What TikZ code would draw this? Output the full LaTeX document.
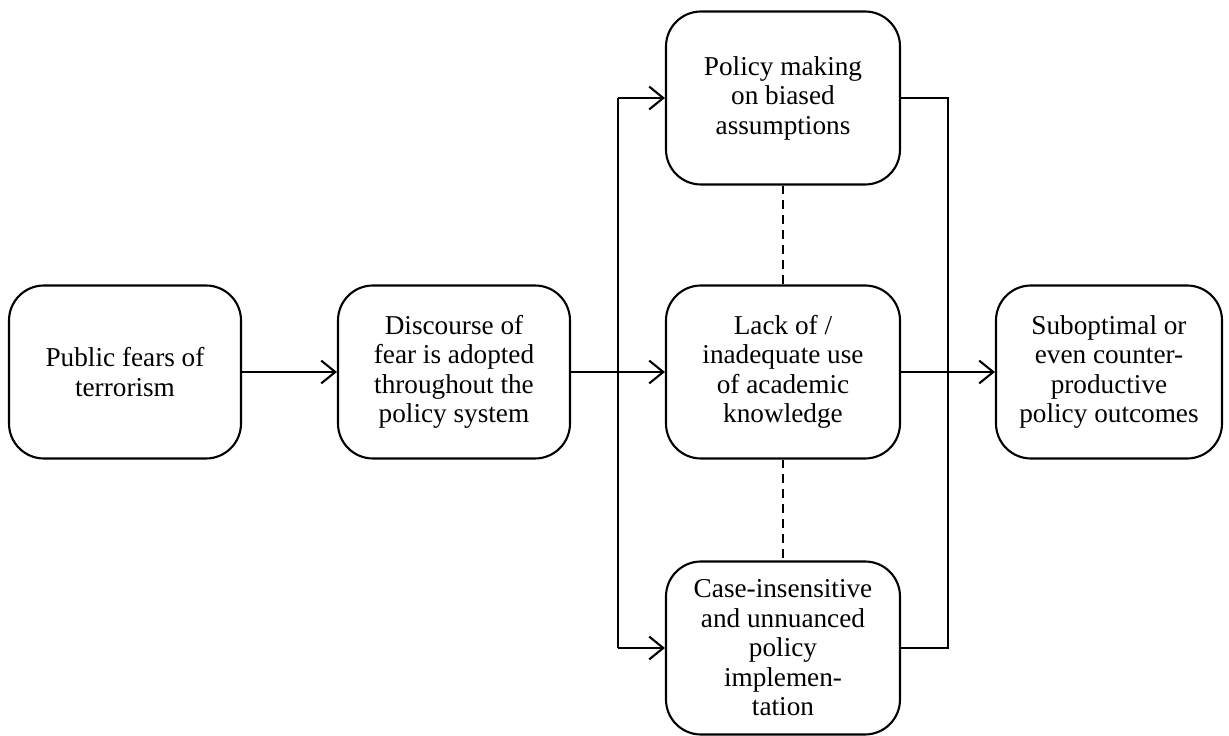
\documentclass[tikz,border=0pt]{standalone}
\usepackage{fontspec}
\setmainfont{Liberation Serif}
\usetikzlibrary{arrows.meta}

\tikzset{
  stage/.style={draw, line width=1.2pt, rounded corners=0.7cm, minimum width=4.64cm,
    minimum height=3.46cm, align=center, inner sep=2pt,
    font=\fontsize{15.5}{16.8}\selectfont},
  wire/.style={line width=1.2pt},
  flow/.style={wire, -{Straight Barb[length=8pt,width=13pt,line width=1.2pt]}},
  link/.style={wire, dash pattern=on 5pt off 3.5pt},
}

\begin{document}
\begin{tikzpicture}
			%%%%% START %%%%%
			\useasboundingbox (0, 0) rectangle (24.58, 14.72);
			
			\node[stage] (fears) at (2.50, 7.28) {Public fears of\\terrorism};
			\node[stage] (discourse) at (9.08, 7.28) {Discourse of\\fear is adopted\\throughout the\\policy system};
			
			\node[stage, minimum width=4.68cm] (biased) at (15.66, 12.76) {Policy making\\on biased\\assumptions};
			\node[stage, minimum width=4.68cm] (lack) at (15.66, 7.28) {Lack of /\\inadequate use\\of academic\\knowledge};
			\node[stage, minimum width=4.68cm] (insensitive) at (15.66, 1.76) {Case-insensitive\\and unnuanced\\policy\\implemen-\\tation};
			
			\node[stage, minimum width=4.52cm] (outcomes) at (22.18, 7.28) {Suboptimal or\\even counter-\\productive\\policy outcomes};
			
			\coordinate (forktop) at (12.36, 12.76);
			\coordinate (forkbot) at (12.36, 1.76);
			\coordinate (jointop) at (18.96, 12.76);
			\coordinate (joinbot) at (18.96, 1.76);
			
			\draw[flow] (fears) -- (discourse);
			\draw[flow] (discourse) -- (lack);
			\draw[wire] (forktop) -- (forkbot);
			\draw[flow] (forktop) -- (biased);
			\draw[flow] (forkbot) -- (insensitive);
			
			\draw[link] (biased) -- (lack);
			\draw[link] (lack) -- (insensitive);
			
			\draw[wire] (biased) -- (jointop) -- (joinbot) -- (insensitive);
			\draw[flow] (lack) -- (outcomes);
			
			%%%%% END %%%%%
\end{tikzpicture}
\end{document}
